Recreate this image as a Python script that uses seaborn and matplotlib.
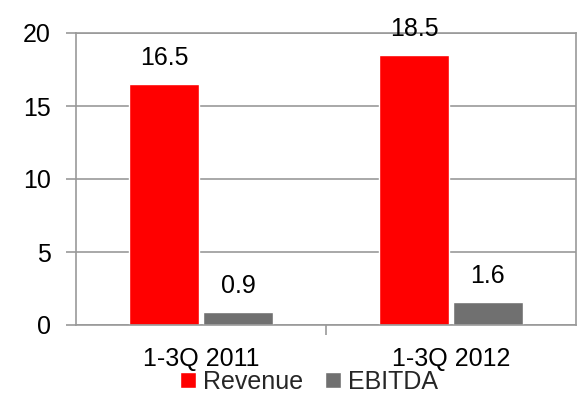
import matplotlib
matplotlib.use("Agg")
import matplotlib.pyplot as plt
import seaborn as sns
import pandas as pd
from matplotlib.ticker import FixedLocator

categories = ["1-3Q 2011", "1-3Q 2012"]
series = ["Revenue", "EBITDA"]
revenue = [16.5, 18.5]
ebitda = [0.9, 1.6]
yticks = [0, 5, 10, 15, 20]

df = pd.DataFrame({
    "period": categories * 2,
    "metric": [series[0]] * 2 + [series[1]] * 2,
    "value": revenue + ebitda,
})

sns.set_theme(style="white")
plt.rcParams["font.family"] = ["Liberation Sans", "DejaVu Sans"]

FS = 18

fig = plt.figure(figsize=(5.79, 3.96), dpi=100)
ax = fig.add_axes([76/579, 1-325/396, 500/579, 292/396])

sns.barplot(data=df, x="period", y="value", hue="metric",
            palette={"Revenue": "#FF0000", "EBITDA": "#707070"},
            width=0.59, gap=0.05, ax=ax, saturation=1, legend=True)

for c in ax.containers:
    ax.bar_label(c, fmt="%.1f", padding=10, fontsize=FS, color="black")

ax.set_xlim(-0.5, 1.5)
ax.set_ylim(0, 20)
ax.set_yticks(yticks)
ax.yaxis.grid(True, color="#999999", linewidth=1.2)
ax.set_axisbelow(True)
ax.set_xlabel("")
ax.set_ylabel("")
for s in ax.spines.values():
    s.set_color("#999999")
    s.set_linewidth(1.2)
ax.tick_params(axis="y", which="major", left=True, length=7, width=1.2,
               color="#999999", labelsize=FS, pad=11, labelcolor="black")
ax.tick_params(axis="x", which="major", bottom=False, labelsize=FS, pad=10,
               labelcolor="black")
ax.xaxis.set_minor_locator(FixedLocator([0.5]))
ax.tick_params(axis="x", which="minor", bottom=True, length=7, width=1.2,
               color="#999999")

handles, labels = ax.get_legend_handles_labels()
ax.legend(handles, labels, loc="center",
          bbox_to_anchor=(309/579, (396-382)/396),
          bbox_transform=fig.transFigure,
          ncol=2, frameon=False, fontsize=FS, handlelength=0.64,
          handleheight=0.64, handletextpad=0.28, columnspacing=0.9,
          borderaxespad=0, borderpad=0)

fig.savefig("out.png", dpi=100)
